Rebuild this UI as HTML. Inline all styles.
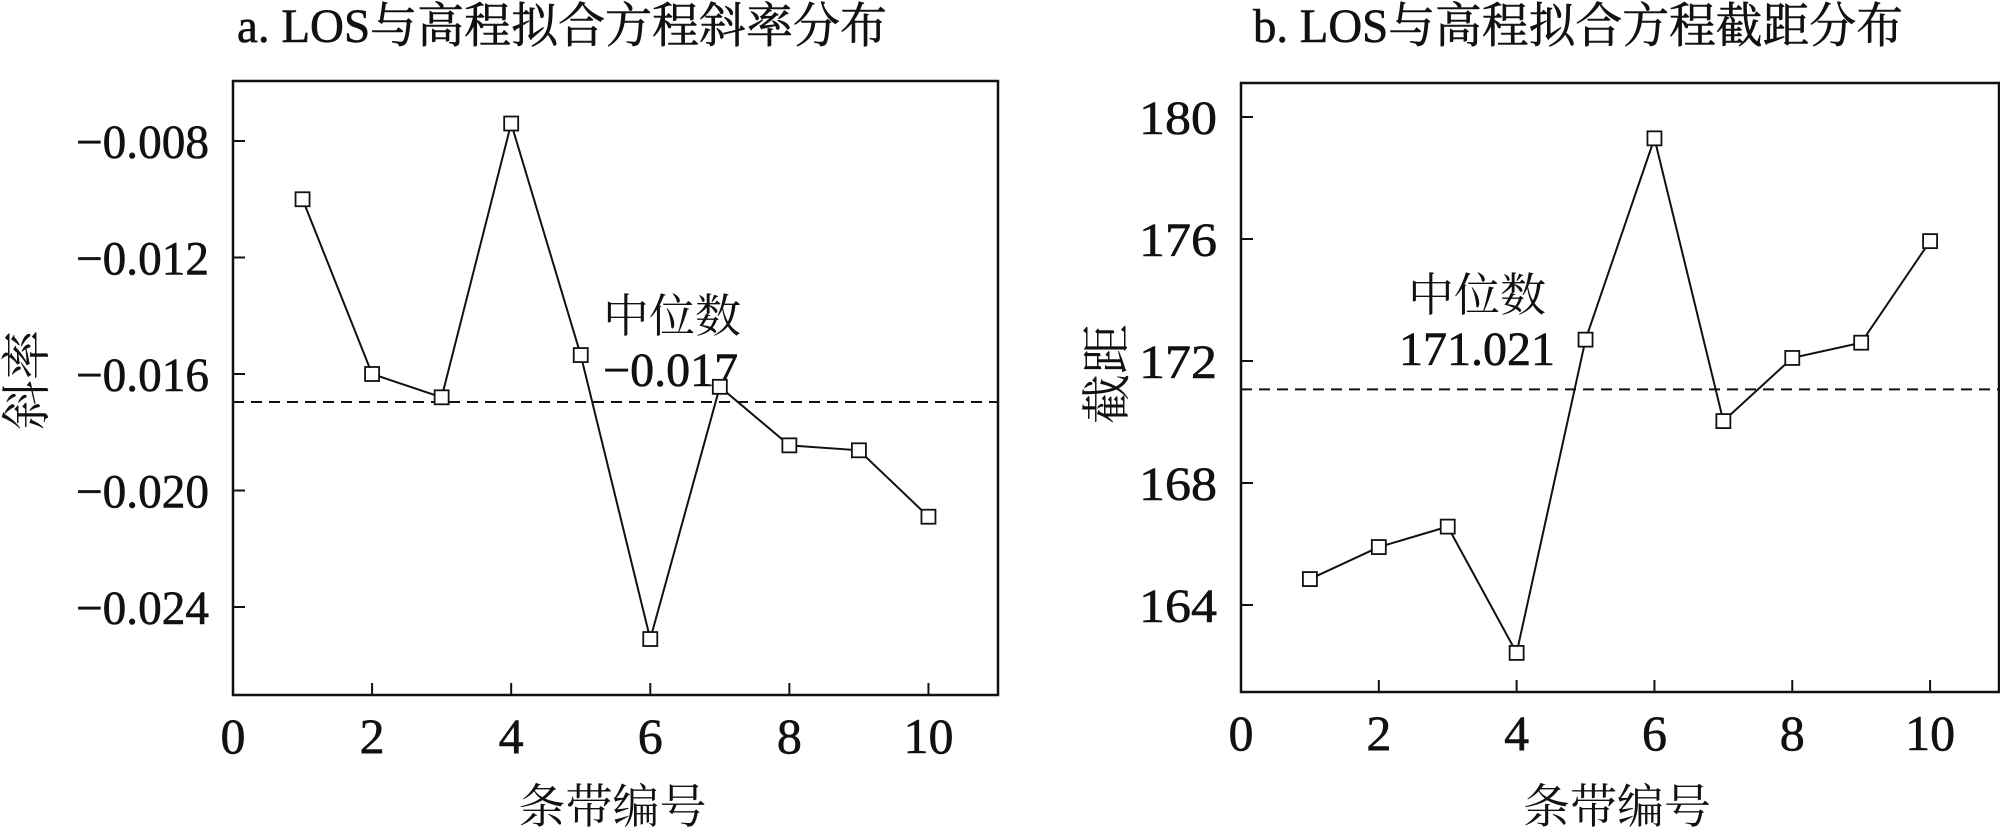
<!DOCTYPE html>
<html><head><meta charset="utf-8"><style>
body{margin:0;background:#fff}
svg text{font-family:"Liberation Serif","Noto Serif CJK SC",serif;fill:#111}
</style></head><body>
<svg id="s" width="2000" height="827" xmlns="http://www.w3.org/2000/svg"></svg>
<script>
const categories=[1,2,3,4,5,6,7,8,9,10];
const slopeValues=[-0.0100,-0.0160,-0.0168,-0.0074,-0.01535,-0.0251,-0.01644,-0.01845,-0.01862,-0.0209];
const slopeMedian=-0.01696;
const slopeTicks=[-0.008,-0.012,-0.016,-0.020,-0.024];
const slopeTickLabels=["\u22120.008","\u22120.012","\u22120.016","\u22120.020","\u22120.024"];
const interceptValues=[164.85,165.9,166.57,162.43,172.7,179.3,170.03,172.1,172.6,175.93];
const interceptMedian=171.07;
const interceptTicks=[164,168,172,176,180];
const interceptTickLabels=["164","168","172","176","180"];
const xTicks=[0,2,4,6,8,10];
const xTickLabels=["0","2","4","6","8","10"];

const NS="http://www.w3.org/2000/svg";
const svg=document.getElementById('s');
function mk(tag,attrs,parent,text){const e=document.createElementNS(NS,tag);for(const k in attrs)e.setAttribute(k,attrs[k]);if(text!==undefined)e.textContent=text;(parent||svg).appendChild(e);return e;}

function panel(cfg){
  const g=mk('g',{});
  
  
  const X=v=>cfg.x0+(v-0)*(cfg.x1-cfg.x0)/11;
  const Y=v=>cfg.ya+(v-cfg.va)*(cfg.yb-cfg.ya)/(cfg.vb-cfg.va);
  const fr=mk('rect',{x:cfg.x0,y:cfg.top,width:cfg.x1-cfg.x0,height:cfg.bottom-cfg.top,fill:'none',stroke:'#111','stroke-width':2.5},g);
  
  const t=mk('text',{x:cfg.titleX,y:42,'text-anchor':'middle','font-size':48,textLength:cfg.titleW,lengthAdjust:'spacingAndGlyphs',stroke:'#111','stroke-width':0.6},g,cfg.title);
  
  cfg.yTicks.forEach((v,i)=>{
    const tk=mk('line',{x1:cfg.x0,x2:cfg.x0+12,y1:Y(v),y2:Y(v),stroke:'#111','stroke-width':2},g);
    
    const lb=mk('text',{x:cfg.x0-24,y:Y(v)+17,'text-anchor':'end','font-size':48,textLength:cfg.yLabW,lengthAdjust:'spacingAndGlyphs',stroke:'#111','stroke-width':0.6},g,cfg.yLabels[i]);
    
  });
  xTicks.forEach((v,i)=>{
    const tk=mk('line',{x1:X(v),x2:X(v),y1:cfg.bottom,y2:cfg.bottom-12,stroke:'#111','stroke-width':2},g);
    
    const lb=mk('text',{x:X(v),y:cfg.bottom+58,'text-anchor':'middle','font-size':50,stroke:'#111','stroke-width':0.6},g,xTickLabels[i]);
    
  });
  const xl=mk('text',{x:(cfg.x0+cfg.x1)/2-3,y:823,'text-anchor':'middle','font-size':47},g,'条带编号');
  
  const yl=mk('text',{x:0,y:0,'text-anchor':'middle','font-size':50,transform:`translate(${cfg.ylX},${cfg.ylY}) rotate(-90)`},g,cfg.yTitle);
  
  const md=mk('line',{x1:cfg.x0,x2:cfg.x1,y1:Y(cfg.median),y2:Y(cfg.median),stroke:'#111','stroke-width':2,'stroke-dasharray':'11,7'},g);
  
  const a1=mk('text',{x:cfg.annX,y:cfg.annY,'text-anchor':cfg.annAnchor,'font-size':46},g,'中位数');
  
  const a2=mk('text',{x:cfg.annX,y:cfg.annY+54,'text-anchor':cfg.annAnchor,'font-size':48,stroke:'#111','stroke-width':0.6},g,cfg.annVal);
  
  const pts=categories.map((c,i)=>X(c)+','+Y(cfg.values[i])).join(' ');
  const pl=mk('polyline',{points:pts,fill:'none',stroke:'#111','stroke-width':2},g);
  
  categories.forEach((c,i)=>{
    const r=mk('rect',{x:X(c)-7,y:Y(cfg.values[i])-7,width:14,height:14,fill:'#fff',stroke:'#111','stroke-width':1.8},g);
    
  });
}
panel({name:'slope-chart',x0:233,x1:998,top:81,bottom:695,va:-0.008,vb:-0.024,ya:141,yb:607,
  yTicks:slopeTicks,yLabels:slopeTickLabels,yLabW:133,values:slopeValues,median:slopeMedian,
  title:'a. LOS与高程拟合方程斜率分布',titleX:562,titleW:650,yTitle:'斜率',ylX:44,ylY:380,
  annX:603,annY:332,annAnchor:'start',annVal:'\u22120.017'});
panel({name:'intercept-chart',x0:1241,x1:1999,top:83,bottom:692,va:180,vb:164,ya:117,yb:605,
  yTicks:interceptTicks,yLabels:interceptTickLabels,yLabW:78,values:interceptValues,median:interceptMedian,
  title:'b. LOS与高程拟合方程截距分布',titleX:1578,titleW:650,yTitle:'截距',ylX:1124,ylY:374,
  annX:1477,annY:311,annAnchor:'middle',annVal:'171.021'});
</script>
</body></html>
